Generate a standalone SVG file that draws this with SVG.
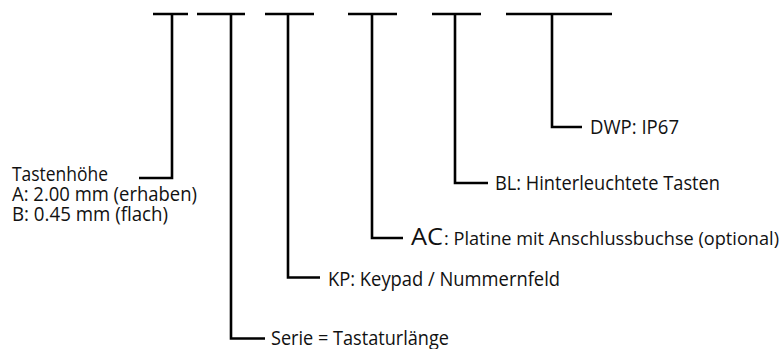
<svg xmlns="http://www.w3.org/2000/svg" width="783" height="349" viewBox="0 0 783 349">
<style>
.ln{fill:none;stroke:#000;stroke-width:2.6;stroke-linecap:butt;stroke-linejoin:miter}
.t{font-family:"Open Sans",Lato,"Liberation Sans",sans-serif;font-size:20px;fill:#111}
.big{font-size:24px}
.ac{font-size:17.5px}
</style>
<rect width="783" height="349" fill="#fff"/>
<g id="fields">
<path class="ln" d="M153 14H188M197 14H245M265 14H314M348 14H397M432 14H481M506 14H612"/>
</g>
<g id="connectors">
<path class="ln" d="M172 14V178H139"/>
<path class="ln" d="M231 14V338.5H265"/>
<path class="ln" d="M288 14V277.5H320"/>
<path class="ln" d="M372 14V238H403"/>
<path class="ln" d="M455 14V183H488"/>
<path class="ln" d="M552 14V127H582"/>
</g>
<g id="tastenhoehe">
<text class="t" x="12" y="181" textLength="96" lengthAdjust="spacingAndGlyphs">Tastenhöhe</text>
<text class="t" x="12" y="201" textLength="185" lengthAdjust="spacingAndGlyphs">A: 2.00 mm (erhaben)</text>
<text class="t" x="12" y="221" textLength="156" lengthAdjust="spacingAndGlyphs">B: 0.45 mm (flach)</text>
</g>
<g id="serie">
<text class="t" x="271" y="344.5" textLength="178" lengthAdjust="spacingAndGlyphs">Serie = Tastaturlänge</text>
</g>
<g id="kp">
<text class="t" x="328" y="286" textLength="232" lengthAdjust="spacingAndGlyphs">KP: Keypad / Nummernfeld</text>
</g>
<g id="ac">
<text class="t big" x="411" y="245" textLength="32" lengthAdjust="spacingAndGlyphs">AC</text>
<text class="t ac" x="444" y="245" textLength="335" lengthAdjust="spacingAndGlyphs">: Platine mit Anschlussbuchse (optional)</text>
</g>
<g id="bl">
<text class="t" x="495" y="190" textLength="225" lengthAdjust="spacingAndGlyphs">BL: Hinterleuchtete Tasten</text>
</g>
<g id="dwp">
<text class="t" x="590" y="134" textLength="89" lengthAdjust="spacingAndGlyphs">DWP: IP67</text>
</g>
</svg>
